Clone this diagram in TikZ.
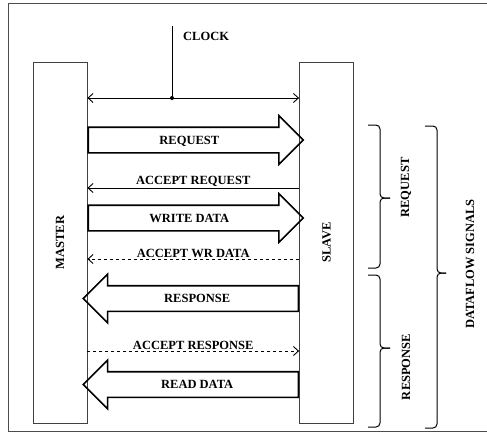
\documentclass[tikz,border=0pt]{standalone}
\usepackage{fontspec}
\setmainfont{Liberation Serif}
\usetikzlibrary{arrows.meta,shapes.arrows,positioning}
\tikzset{
  unit/.style={draw=black!75, line width=0.8pt, minimum width=54pt, minimum height=361pt, inner sep=0pt},
  lbl/.style={font=\bfseries\fontsize{12.5}{13}\selectfont, inner sep=1pt},
  barb/.style={line width=0.9pt, arrows={-Straight Barb[length=5pt,width=9pt]}},
  bigarrow/.style={single arrow, draw, line width=1.6pt, lbl, single arrow head extend=11.5pt,
    single arrow tip angle=90, minimum height=215pt, text height=8pt, text depth=0pt, inner ysep=8pt},
  grp/.style={line width=1pt, rounded corners=4pt},
}
\begin{document}
\begin{tikzpicture}[x=1pt,y=-1pt]
  \useasboundingbox (0,0) rectangle (487,432);
  \draw[black!70, line width=0.9pt] (487,3) -- (8,3) -- (8,431) -- (487,431);
  % master and slave
  \node[unit] (master) at (60,242.5) {};
  \node[unit] (slave) at (326.5,242.5) {};
  \node[lbl, rotate=90] (mname) at (master) {MASTER};
  \node[lbl, rotate=90] (sname) at (slave) {SLAVE};
  % clock
  \coordinate (clk) at (172,26);
  \coordinate (tap) at (172,98);
  \node[lbl, anchor=west] (clkname) at (182,36) {CLOCK};
  \draw[line width=0.9pt] (clk) -- (tap);
  \fill (tap) circle (2pt);
  \draw[barb, arrows={Straight Barb[length=5pt,width=9pt]-Straight Barb[length=5pt,width=9pt]}]
    (tap -| master.east) -- (tap -| slave.west);
  % channels
  \node[bigarrow, anchor=tail] (req) at (master.east |- 0,140) {REQUEST};
  \draw[barb] (slave.west |- 0,188) -- (master.east |- 0,188)
    node[lbl, midway, above] (areq) {ACCEPT REQUEST};
  \node[bigarrow, anchor=tail] (wdata) at (master.east |- 0,218) {WRITE DATA};
  \draw[barb, dashed] (slave.west |- 0,259) -- (master.east |- 0,259)
    node[lbl, midway, above] (awdata) {ACCEPT WR DATA};
  \node[bigarrow, shape border rotate=180, anchor=tail] (resp) at (slave.west |- 0,298.5) {RESPONSE};
  \draw[barb, dashed] (master.east |- 0,351) -- (slave.west |- 0,351)
    node[lbl, midway, above] (aresp) {ACCEPT RESPONSE};
  \node[bigarrow, shape border rotate=180, anchor=tail] (rdata) at (slave.west |- 0,384.5) {READ DATA};
  % groups
  \coordinate (reqtip) at (390,198);
  \draw[grp] (368,125) -- (380,125) -- (380,198) -- (reqtip);
  \draw[grp] (reqtip) -- (380,198) -- (380,268) -- (368,268);
  \node[lbl, rotate=90] (reqgrp) at (406,187.5) {REQUEST};
  \coordinate (resptip) at (390,348);
  \draw[grp] (368,275) -- (380,275) -- (380,348) -- (resptip);
  \draw[grp] (resptip) -- (380,348) -- (380,427) -- (368,427);
  \node[lbl, rotate=90] (respgrp) at (406,367) {RESPONSE};
  \coordinate (alltip) at (446,273);
  \draw[grp] (425,126) -- (437,126) -- (437,273) -- (alltip);
  \draw[grp] (alltip) -- (437,273) -- (437,428) -- (425,428);
  \node[lbl, rotate=90] (allgrp) at (470,264) {DATAFLOW SIGNALS};
\end{tikzpicture}
\end{document}
